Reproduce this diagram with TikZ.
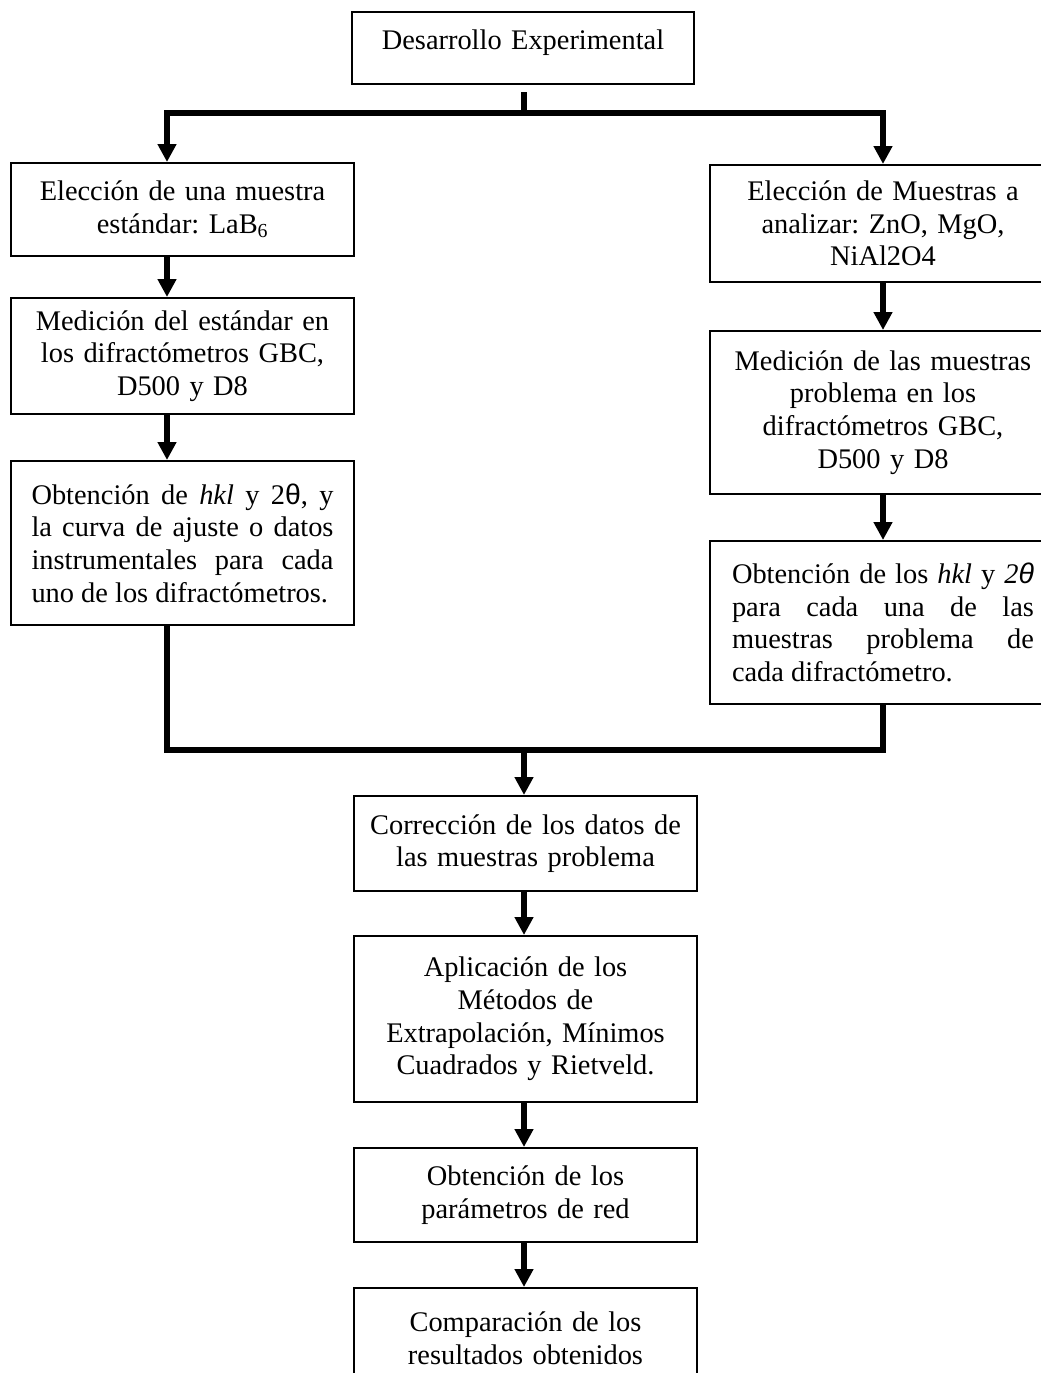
\documentclass[tikz,border=0pt]{standalone}
\usepackage{fontspec}
\setmainfont{Liberation Serif}
\newfontfamily\thsans{Liberation Sans}
\usetikzlibrary{arrows.meta}
\newcommand{\boxfont}{\fontsize{28.4pt}{32.7pt}\selectfont\frenchspacing\hyphenpenalty=10000\relax\exhyphenpenalty=10000\relax}
\begin{document}
\begin{tikzpicture}[x=1pt,y=-1pt,
  box/.style={draw, line width=2pt, anchor=north west, inner xsep=8pt, inner ysep=2pt,
    text width=326pt, align=center, font=\boxfont},
  jbox/.style={box, inner xsep=20pt, text width=302pt, align=justify},
  conn/.style={line width=6pt, line join=miter},
  tip/.style={-{Triangle[width=18pt,length=18pt]}},
  tips/.style={{Triangle[width=18pt,length=18pt]}-{Triangle[width=18pt,length=18pt]}}
]
\useasboundingbox (0,0) rectangle (1041,1373);
\clip (0,0) rectangle (1041,1373);
\fill[white] (0,0) rectangle (1041,1373);

\coordinate (cl) at (167,0);
\coordinate (cr) at (883,0);
\coordinate (cm) at (524,0);
\coordinate (hy) at (0,113);
\coordinate (by) at (0,750);

\node[box, minimum width=342pt, minimum height=72pt, text height=20pt, text depth=17pt] (top) at (351,11) {Desarrollo Experimental};

\node[box, minimum width=343pt, minimum height=93pt] (L1) at (10,162) {Elección de una muestra\\ estándar: LaB\textsubscript{6}};
\node[box, minimum width=343pt, minimum height=116pt] (L2) at (10,297) {Medición del estándar en\\ los difractómetros GBC,\\ D500 y D8};
\node[jbox, minimum width=343pt, minimum height=164pt] (L3) at (10,460) {Obtención de \textit{hkl} y 2{\thsans θ}, y\linebreak la curva de ajuste o datos\linebreak instrumentales para cada\linebreak uno de los difractómetros.};

\node[box, minimum width=346pt, minimum height=117pt] (R1) at (709,164) {Elección de Muestras a\\ analizar: ZnO, MgO,\\ NiAl2O4};
\node[box, minimum width=346pt, minimum height=163pt] (R2) at (709,330) {Medición de las muestras\\ problema en los\\ difractómetros GBC,\\ D500 y D8};
\node[jbox, minimum width=346pt, minimum height=163pt] (R3) at (709,540) {Obtención de los \textit{hkl} y \textit{2}{\thsans\itshape θ}\linebreak para cada una de las\linebreak muestras problema de\linebreak cada difractómetro.};

\node[box, minimum width=343pt, minimum height=95pt] (C1) at (353,795) {Corrección de los datos de\\ las muestras problema};
\node[box, minimum width=343pt, minimum height=166pt] (C2) at (353,935) {Aplicación de los\\ Métodos de\\ Extrapolación, Mínimos\\ Cuadrados y Rietveld.};
\node[box, minimum width=343pt, minimum height=94pt] (C3) at (353,1147) {Obtención de los\\ parámetros de red};
\node[box, minimum width=343pt, minimum height=100pt] (C4) at (353,1287) {Comparación de los\\ resultados obtenidos};

\draw[conn, shorten <=7pt] (top.south -| cm) -- (cm |- hy);
\draw[conn, tips] (L1.north -| cl) -- (cl |- hy) -- (cr |- hy) -- (R1.north -| cr);

\draw[conn, tip] (L1.south -| cl) -- (L2.north -| cl);
\draw[conn, tip] (L2.south -| cl) -- (L3.north -| cl);
\draw[conn, tip] (R1.south -| cr) -- (R2.north -| cr);
\draw[conn, tip] (R2.south -| cr) -- (R3.north -| cr);

\draw[conn] (L3.south -| cl) -- (cl |- by) -- (cr |- by) -- (R3.south -| cr);
\draw[conn, tip] (cm |- by) -- (C1.north -| cm);
\draw[conn, tip] (C1.south -| cm) -- (C2.north -| cm);
\draw[conn, tip] (C2.south -| cm) -- (C3.north -| cm);
\draw[conn, tip] (C3.south -| cm) -- (C4.north -| cm);
\end{tikzpicture}
\end{document}
